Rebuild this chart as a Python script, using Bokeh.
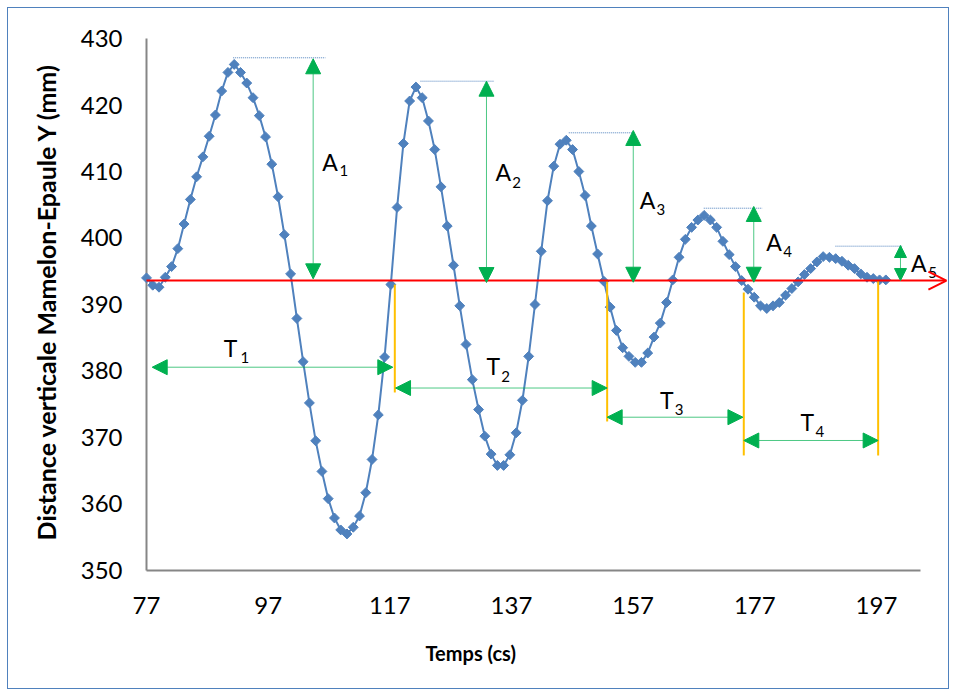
from bokeh.plotting import figure
from bokeh.models import Range1d, FixedTicker, Arrow, NormalHead, OpenHead, Title
from bokeh.embed import file_html
from bokeh.resources import INLINE
from bokeh.core.properties import value

# ---------------- data ----------------
time_cs = [77.00, 78.03, 79.06, 80.09, 81.12, 82.15, 83.18, 84.21, 85.24, 86.27,
           87.30, 88.33, 89.36, 90.39, 91.42, 92.45, 93.48, 94.51, 95.54, 96.57,
           97.60, 98.63, 99.66, 100.69, 101.72, 102.75, 103.78, 104.81, 105.84, 106.87,
           107.90, 108.93, 109.96, 110.99, 112.02, 113.05, 114.08, 115.11, 116.14, 117.17,
           118.20, 119.23, 120.26, 121.29, 122.32, 123.35, 124.38, 125.41, 126.44, 127.47,
           128.50, 129.53, 130.56, 131.59, 132.62, 133.65, 134.68, 135.71, 136.74, 137.77,
           138.80, 139.83, 140.86, 141.89, 142.92, 143.95, 144.98, 146.01, 147.04, 148.07,
           149.10, 150.13, 151.16, 152.19, 153.22, 154.25, 155.28, 156.31, 157.34, 158.37,
           159.40, 160.43, 161.46, 162.49, 163.52, 164.55, 165.58, 166.61, 167.64, 168.67,
           169.70, 170.73, 171.76, 172.79, 173.82, 174.85, 175.88, 176.91, 177.94, 178.97,
           180.00, 181.03, 182.06, 183.09, 184.12, 185.15, 186.18, 187.21, 188.24, 189.27,
           190.30, 191.33, 192.36, 193.39, 194.42, 195.45, 196.48, 197.51, 198.54]
distance_mm = [394.0, 392.9, 392.6, 394.1, 395.7, 398.4, 402.1, 405.8, 409.2, 412.2,
               415.3, 418.5, 422.1, 424.9, 426.1, 424.9, 423.3, 421.1, 418.4, 415.2,
               411.1, 406.2, 400.5, 394.6, 387.9, 381.4, 375.2, 369.5, 364.9, 360.8,
               357.9, 356.1, 355.5, 356.5, 358.2, 361.7, 366.7, 373.4, 382.1, 393.0,
               404.6, 414.2, 420.6, 422.7, 421.1, 417.6, 413.3, 407.7, 401.8, 395.9,
               389.8, 384.0, 378.7, 374.2, 370.2, 367.5, 365.8, 365.8, 367.4, 370.7,
               375.6, 382.2, 390.0, 398.0, 405.6, 410.8, 414.1, 414.7, 413.3, 410.0,
               406.4, 401.8, 397.6, 393.5, 389.6, 386.1, 383.5, 382.2, 381.3, 381.3,
               382.7, 385.1, 387.2, 390.3, 393.7, 397.1, 399.8, 401.6, 402.7, 403.4,
               402.7, 401.6, 399.5, 397.5, 395.7, 393.6, 392.3, 391.1, 389.8, 389.4,
               389.8, 390.3, 391.4, 392.4, 393.4, 394.5, 395.4, 396.4, 397.2, 397.1,
               396.9, 396.5, 395.9, 395.4, 394.6, 394.1, 393.9, 393.7, 393.7]

x_ticks = [77, 97, 117, 137, 157, 177, 197]
y_ticks = [350, 360, 370, 380, 390, 400, 410, 420, 430]
x_axis_end = 204.24

equilibrium_mm = 393.6
equilibrium_end = 208.5

# amplitude annotations (A1..A5)
amp_x = [104.40, 132.89, 157.02, 176.83, 200.95]
amp_top = [426.95, 423.58, 416.17, 404.74, 398.87]
amp_bottom = [393.86, 393.3, 393.35, 393.35, 393.6]
amp_head = [15, 15, 15, 15, 12]
peak_y = [427.1, 423.58, 415.82, 404.48, 398.77]
peak_x0 = [91.25, 122.04, 146.42, 168.61, 190.26]
peak_x1 = [106.43, 134.21, 157.03, 178.21, 201.22]
amp_letter_x = [105.88, 134.37, 158.10, 178.87, 202.70]
amp_letter_y = [411.5, 409.85, 405.76, 399.37, 396.24]
amp_sub_x = [108.72, 137.12, 160.84, 181.66, 205.50]
amp_sub_y = [410.15, 408.4, 404.3, 398.0, 394.8]
amp_sub = ["1", "2", "3", "4", "5"]

# period annotations (T1..T4)
per_y = [380.57, 377.44, 373.05, 369.55]
per_x0 = [77.94, 117.94, 152.73, 175.19]
per_x1 = [117.49, 152.73, 175.05, 197.28]
mark_x = [117.82, 152.73, 175.19, 197.28]
mark_y0 = [393.0, 393.46, 391.8, 393.7]
mark_y1 = [376.77, 372.41, 367.3, 367.3]
per_letter_x = [89.71, 132.89, 161.42, 184.51]
per_letter_y = [383.49, 380.7, 375.71, 372.4]
per_sub_x = [92.45, 135.31, 163.86, 186.97]
per_sub_y = [381.96, 379.2, 374.2, 370.9]
per_sub = ["1", "2", "3", "4"]

# ---------------- figure ----------------
FONT = "Lato"
BLUE = "#4F81BD"
GREEN = "#00B050"

p = figure(width=940, height=680, output_backend="svg", toolbar_location=None,
           x_range=Range1d(75.685, 208.68), y_range=Range1d(349.398, 431.504),
           min_border_left=130, min_border_right=1, min_border_top=20, min_border_bottom=114)
p.styles = {"outline": "1px solid #4F81BD", "margin-left": "8px", "margin-top": "8px"}
p.outline_line_color = None
p.xgrid.grid_line_color = None
p.ygrid.grid_line_color = None
p.background_fill_color = "white"
p.border_fill_color = "white"

for ax in (p.xaxis[0], p.yaxis[0]):
    ax.axis_line_color = None
    ax.major_tick_line_color = None
    ax.minor_tick_line_color = None
    ax.major_tick_out = 0
    ax.major_tick_in = 0
    ax.minor_tick_out = 0
    ax.minor_tick_in = 0
    ax.major_label_text_font = FONT
    ax.major_label_text_font_size = "24px"
    ax.major_label_text_color = "#000000"
    ax.axis_label_text_font = FONT
    ax.axis_label_text_font_style = "bold"
    ax.axis_label_text_color = "#000000"

p.xaxis.ticker = FixedTicker(ticks=x_ticks)
p.yaxis.ticker = FixedTicker(ticks=y_ticks)
p.xaxis.major_label_standoff = 22
p.yaxis.major_label_standoff = 16
p.yaxis.axis_label = "Distance verticale Mamelon-Epaule Y (mm)"
p.yaxis.axis_label_text_font_size = "25px"
p.yaxis.axis_label_standoff = 17

x_title = Title(text="Temps (cs)", align="left", offset=287,
                text_font=FONT, text_font_style="bold", text_font_size="20px",
                text_color="#000000")
try:
    x_title.standoff = 44
except AttributeError:
    pass
p.add_layout(x_title, "below")

# custom axis lines (plot-area border only)
p.segment(x0=[x_ticks[0], x_ticks[0]], y0=[y_ticks[0], y_ticks[0]],
          x1=[x_ticks[0], x_axis_end], y1=[y_ticks[-1], y_ticks[0]],
          line_color="#868686", line_width=2)

# data series
p.line(time_cs, distance_mm, line_color=BLUE, line_width=2)
p.scatter(time_cs, distance_mm, marker="square", size=7, angle=0.785398,
          fill_color=BLUE, line_color=BLUE)

# peak dotted lines
p.segment(x0=peak_x0, y0=peak_y, x1=peak_x1, y1=peak_y,
          line_color=BLUE, line_width=1, line_dash="1 1")

# orange period markers
p.segment(x0=mark_x, y0=mark_y0, x1=mark_x, y1=mark_y1,
          line_color="#FFC000", line_width=2)

# red equilibrium arrow
p.add_layout(Arrow(x_start=time_cs[0], y_start=equilibrium_mm, x_end=equilibrium_end,
                   y_end=equilibrium_mm, line_color="red", line_width=2,
                   end=OpenHead(size=18, line_color="red", line_width=2)))

# amplitude arrows
for xa, yt, yb, hs in zip(amp_x, amp_top, amp_bottom, amp_head):
    p.add_layout(Arrow(x_start=xa, y_start=yb, x_end=xa, y_end=yt,
                       line_color=GREEN, line_width=1, line_alpha=0.7,
                       start=NormalHead(size=hs, fill_color=GREEN, line_color=GREEN, line_width=1),
                       end=NormalHead(size=hs, fill_color=GREEN, line_color=GREEN, line_width=1)))

# period arrows
for y, x0, x1 in zip(per_y, per_x0, per_x1):
    p.add_layout(Arrow(x_start=x0, y_start=y, x_end=x1, y_end=y,
                       line_color=GREEN, line_width=1, line_alpha=0.7,
                       start=NormalHead(size=15, fill_color=GREEN, line_color=GREEN, line_width=1),
                       end=NormalHead(size=15, fill_color=GREEN, line_color=GREEN, line_width=1)))

# labels
p.text(x=amp_letter_x, y=amp_letter_y, text=["A"] * 5, text_font=value(FONT),
       text_font_size=value("23px"), text_align="left", text_baseline="middle", text_color="black")
p.text(x=amp_sub_x, y=amp_sub_y, text=amp_sub, text_font=value(FONT),
       text_font_size=value("15px"), text_align="left", text_baseline="middle", text_color="black")
p.text(x=per_letter_x, y=per_letter_y, text=["T"] * 4, text_font=value(FONT),
       text_font_size=value("23px"), text_align="left", text_baseline="middle", text_color="black")
p.text(x=per_sub_x, y=per_sub_y, text=per_sub, text_font=value(FONT),
       text_font_size=value("15px"), text_align="left", text_baseline="middle", text_color="black")

open("out.html", "w").write(file_html(p, INLINE))
